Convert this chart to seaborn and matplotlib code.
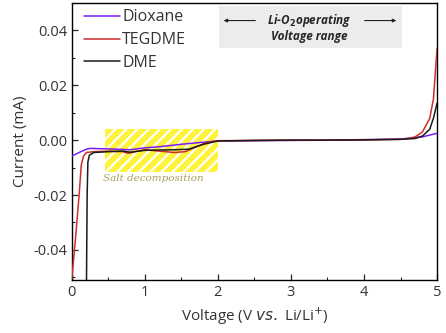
import numpy as np
import pandas as pd
import seaborn as sns
import matplotlib.pyplot as plt
from matplotlib.patches import Rectangle

# values (voltage in V, current in mA)
diox_v = [0.0, 0.1, 0.2, 0.25, 0.5, 0.8, 1.0, 1.2, 1.5, 1.7, 1.9, 2.0, 2.5, 3.0, 3.5, 4.0, 4.5, 4.8, 5.0]
diox_i = [-0.0058, -0.0045, -0.0033, -0.003, -0.0032, -0.0035, -0.0028, -0.0024, -0.0015, -0.001, -0.0005, -0.0003,
          -0.0002, -0.0001, 0.0, 0.0002, 0.0004, 0.0012, 0.0025]

teg_v = [0.0, 0.05, 0.1, 0.13, 0.16, 0.2, 0.3, 0.5, 0.7, 0.77, 0.85, 1.0, 1.2, 1.4, 1.55, 1.7, 1.85, 2.0, 2.5, 3.0,
         3.5, 4.0, 4.5, 4.6, 4.7, 4.8, 4.9, 4.95, 5.0]
teg_i = [-0.0505, -0.036, -0.02, -0.009, -0.0058, -0.0045, -0.0042, -0.004, -0.0042, -0.0048, -0.0043, -0.0035,
         -0.004, -0.0045, -0.0042, -0.0025, -0.0008, -0.0002, -0.0001, 0.0, 0.0, 0.0001, 0.0003, 0.0006, 0.0012,
         0.003, 0.008, 0.015, 0.0335]

dme_v = [0.2, 0.21, 0.22, 0.24, 0.3, 0.5, 0.7, 0.8, 1.0, 1.2, 1.4, 1.6, 1.8, 2.0, 2.5, 3.0, 3.5, 4.0, 4.5, 4.7,
         4.8, 4.9, 4.95, 5.0]
dme_i = [-0.055, -0.02, -0.008, -0.0055, -0.0045, -0.0042, -0.004, -0.0044, -0.0037, -0.0036, -0.0035, -0.0033,
         -0.0015, -0.0003, -0.0001, 0.0, 0.0, 0.0001, 0.0003, 0.0006, 0.0015, 0.004, 0.008, 0.0135]

names = ['Dioxane', 'TEGDME', 'DME']
colors = ['#7a1cf5', '#d02c2c', '#1a1a1a']

df = pd.concat([
    pd.DataFrame({'V': diox_v, 'I': diox_i, 'solvent': 'Dioxane'}),
    pd.DataFrame({'V': teg_v, 'I': teg_i, 'solvent': 'TEGDME'}),
    pd.DataFrame({'V': dme_v, 'I': dme_i, 'solvent': 'DME'}),
], ignore_index=True)

sns.set_style('ticks')
plt.rcParams['font.family'] = ['Open Sans', 'DejaVu Sans']
plt.rcParams['hatch.linewidth'] = 1.6

fig = plt.figure(figsize=(4.46, 3.33), dpi=100)
ax = fig.add_axes([0.161, 0.159, 0.819, 0.832])

# salt decomposition region
ax.add_patch(Rectangle((0.45, -0.0115), 1.55, 0.0155, facecolor='#fff23a', edgecolor='white',
                       hatch='///', lw=0, zorder=1))
ax.text(1.12, -0.0138, 'Salt decomposition', family='DejaVu Serif', style='italic', fontsize=7.5,
        color='#a8a060', ha='center', va='center')

# operating window box
ax.add_patch(Rectangle((2.02, 0.0335), 2.5, 0.0155, facecolor='#ececec', lw=0, zorder=1))
ax.text(3.25, 0.0438, 'Li-O$_\\mathbf{2}$operating', fontsize=8.5, weight='bold', style='italic',
        ha='center', va='center')
ax.text(3.25, 0.0378, 'Voltage range', fontsize=8.5, weight='bold', style='italic', ha='center', va='center')
ax.annotate('', xy=(2.04, 0.0436), xytext=(2.55, 0.0436),
            arrowprops=dict(arrowstyle='-|>', color='#222222', lw=0.8, mutation_scale=5))
ax.annotate('', xy=(4.48, 0.0436), xytext=(3.97, 0.0436),
            arrowprops=dict(arrowstyle='-|>', color='#222222', lw=0.8, mutation_scale=5))

sns.lineplot(data=df, x='V', y='I', hue='solvent', hue_order=names, palette=colors,
             sort=False, estimator=None, lw=1.1, ax=ax, zorder=3)

ax.set_xlim(0, 5)
ax.set_ylim(-0.051, 0.05)
ax.set_xticks([0, 1, 2, 3, 4, 5])
ax.set_xticks(np.arange(0.5, 5, 1.0), minor=True)
ax.set_yticks([-0.04, -0.02, 0.0, 0.02, 0.04])
ax.set_yticks([-0.05, -0.03, -0.01, 0.01, 0.03, 0.05], minor=True)
ax.set_yticklabels(['-0.04', '-0.02', '0.00', '0.02', '0.04'])
ax.tick_params(which='both', direction='in', labelsize=10.5, labelcolor='#333333')
ax.tick_params(which='major', length=4, width=0.9)
ax.tick_params(which='minor', length=2.5, width=0.8)
for s in ax.spines.values():
    s.set_linewidth(1.0)
    s.set_color('black')

ax.set_xlabel('Voltage (V $\\it{vs.}$ Li/Li$^{+}$)', fontsize=11, color='#333333')
ax.set_ylabel('Current (mA)', fontsize=11, color='#333333')

leg = ax.legend(loc='upper left', bbox_to_anchor=(0.015, 1.0), frameon=False, fontsize=11.5,
                handlelength=2.3, handletextpad=0.1, labelspacing=0.42, borderaxespad=0.3, borderpad=0.1)
for t in leg.get_texts():
    t.set_color('#333333')

fig.savefig('out.png', dpi=100)
